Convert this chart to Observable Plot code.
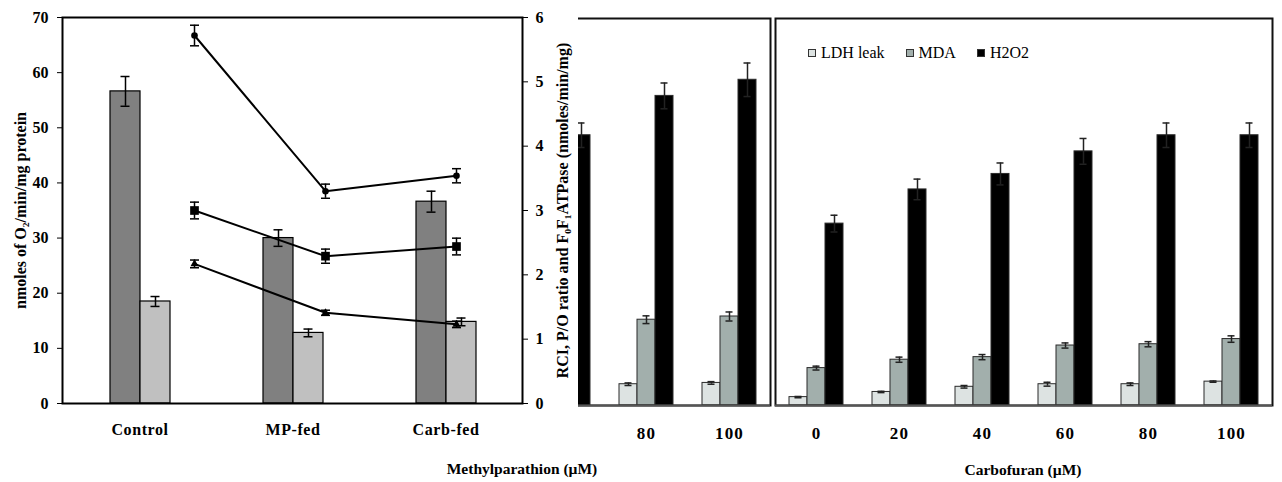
<!DOCTYPE html>
<html><head><meta charset="utf-8">
<script src="https://cdn.jsdelivr.net/npm/d3@7"></script>
<script src="https://cdn.jsdelivr.net/npm/@observablehq/plot@0.6"></script>
<style>
body{margin:0;background:#fff;}
#fig{position:relative;width:1282px;height:482px;overflow:hidden;background:#fff;font-family:"Liberation Serif",serif;}
.layer{position:absolute;top:0;}
.layer svg{display:block;}
#panelA{left:0;width:578px;height:482px;background:#fff;}
.title{position:absolute;font-family:"Liberation Serif","Times New Roman",serif;font-weight:bold;font-size:15.5px;white-space:nowrap;transform:translateX(-50%);}
#legend{position:absolute;left:808px;top:44px;display:flex;align-items:center;}
#legend .item{display:flex;align-items:center;margin-right:21px;}
#legend .item span{font-family:"Liberation Serif","Times New Roman",serif;font-size:16px;font-weight:normal;color:#000;}
#legend .sw{width:6px;height:6px;border:1px solid #333;margin-right:5px;}
</style></head><body><div id="fig"></div>
<script>
// ---------- Panel A data ----------
const groupsA = ["Control", "MP-fed", "Carb-fed"];
const barNamesA = ["Bar series 1", "Bar series 2"];
const barA1 = [56.6, 30.0, 36.6];
const barA1Err = [2.7, 1.5, 1.9];
const barA2 = [18.5, 12.8, 14.8];
const barA2Err = [0.9, 0.7, 0.7];
const lineNames = ["Circle series", "Square series", "Triangle series"];
const lineCircle = [5.72, 3.30, 3.54];
const lineCircleErr = [0.16, 0.11, 0.11];
const lineSquare = [3.00, 2.29, 2.44];
const lineSquareErr = [0.13, 0.11, 0.13];
const lineTriangle = [2.17, 1.41, 1.23];
const lineTriangleErr = [0.06, 0.04, 0.05];
const leftTicks = [0, 10, 20, 30, 40, 50, 60, 70];
const rightTicks = [0, 1, 2, 3, 4, 5, 6];

// ---------- Panels B / C data ----------
const seriesBC = ["LDH leak", "MDA", "H2O2"];
const groupsB = ["60", "80", "100"];
const ldhB = [null, 0.33, 0.35];
const ldhBErr = [null, 0.02, 0.02];
const mdaB = [null, 1.33, 1.38];
const mdaBErr = [null, 0.06, 0.07];
const h2o2B = [4.19, 4.80, 5.05];
const h2o2BErr = [0.19, 0.20, 0.26];

const groupsC = ["0", "20", "40", "60", "80", "100"];
const ldhC = [0.13, 0.21, 0.29, 0.33, 0.33, 0.37];
const ldhCErr = [0.01, 0.01, 0.02, 0.03, 0.02, 0.01];
const mdaC = [0.58, 0.71, 0.75, 0.93, 0.95, 1.03];
const mdaCErr = [0.03, 0.04, 0.04, 0.04, 0.04, 0.05];
const h2o2C = [2.82, 3.35, 3.59, 3.94, 4.19, 4.19];
const h2o2CErr = [0.13, 0.16, 0.17, 0.20, 0.19, 0.19];

const colorsA = ["#808080", "#c0c0c0"];
const colorsBC = ["#dde3e2", "#a2afac", "#000000"];

function rowsFrom(groups, names, vals, errs) {
  const out = [];
  names.forEach((s, k) => groups.forEach((g, i) => {
    if (vals[k][i] != null) out.push({group: g, series: s, value: vals[k][i], err: errs[k][i]});
  }));
  return out;
}

const fig = document.getElementById("fig");
function place(node, left, parent) {
  node.classList.add("layer");
  node.style.left = left + "px";
  (parent || fig).appendChild(node);
  return node;
}

// horizontal error-bar cap as a custom dot symbol
const capSymbol = {draw(ctx, size) { const h = Math.sqrt(size / Math.PI) * 1.8; ctx.moveTo(-h, 0); ctx.lineTo(h, 0); }};

// ---------- Panel B & C (grouped bars) ----------
function groupedPanel(groups, rows, width, mL, mR) {
  const base = {width, height: 482, marginLeft: mL, marginRight: mR, marginTop: 18, marginBottom: 77,
    style: {background: "transparent", fontFamily: "Liberation Serif", fontWeight: "bold", fontSize: "17px", letterSpacing: "1.2px", color: "#000"}};
  const bars = Plot.plot({
    ...base,
    facet: {data: rows, x: "group"},
    fx: {domain: groups, paddingInner: 0.325, paddingOuter: 0.153, axis: "bottom", tickSize: 0, tickPadding: 21, label: null},
    x: {domain: seriesBC, padding: 0, axis: null},
    y: {domain: [0, 6], axis: null},
    color: {domain: seriesBC, range: colorsBC},
    marks: [
      Plot.barY(rows, {x: "series", y: "value", fill: "series", stroke: "#2a2a2a", strokeWidth: 1}),
      Plot.ruleX(rows, {x: "series", y1: d => d.value - d.err, y2: d => d.value + d.err, stroke: "#222", strokeWidth: 1.5}),
      Plot.tickY(rows, {x: "series", y: d => d.value + d.err, insetLeft: 5.5, insetRight: 5.5, stroke: "#222", strokeWidth: 1.5}),
      Plot.tickY(rows, {x: "series", y: d => d.value - d.err, insetLeft: 5.5, insetRight: 5.5, stroke: "#222", strokeWidth: 1.5})
    ]
  });
  const frame = Plot.plot({
    ...base,
    x: {domain: groups, type: "band", axis: null},
    y: {domain: [0, 6], axis: null},
    marks: [
      Plot.frame({stroke: "#111", strokeWidth: 2}),
      Plot.ruleY([0], {stroke: "#555", strokeWidth: 2})
    ]
  });
  return [bars, frame];
}

const rowsB = rowsFrom(groupsB, seriesBC, [ldhB, mdaB, h2o2B], [ldhBErr, mdaBErr, h2o2BErr]);
const rowsC = rowsFrom(groupsC, seriesBC, [ldhC, mdaC, h2o2C], [ldhCErr, mdaCErr, h2o2CErr]);
groupedPanel(groupsB, rowsB, 280, 22, 10).forEach(n => place(n, 500));
groupedPanel(groupsC, rowsC, 582, 75, 10).forEach(n => place(n, 700));

// ---------- Panel A ----------
const panelA = document.createElement("div");
panelA.id = "panelA";
panelA.style.position = "absolute";
panelA.style.top = "0px";
fig.appendChild(panelA);

const baseA = {width: 578, height: 482, marginLeft: 62, marginRight: 56, marginTop: 17, marginBottom: 79,
  style: {background: "transparent", fontFamily: "Liberation Serif", fontWeight: "bold", fontSize: "16px", color: "#000"}};

const rowsA = rowsFrom(groupsA, barNamesA, [barA1, barA2], [barA1Err, barA2Err]);
const plotABars = Plot.plot({
  ...baseA,
  style: {...baseA.style, letterSpacing: "0.6px"},
  facet: {data: rowsA, x: "group"},
  fx: {domain: groupsA, paddingInner: 0.603, paddingOuter: 0.3, axis: "bottom", tickSize: 0, tickPadding: 20, label: null},
  x: {domain: barNamesA, padding: 0, axis: null},
  y: {domain: [0, 70], axis: null},
  color: {domain: barNamesA, range: colorsA},
  marks: [
    Plot.barY(rowsA, {x: "series", y: "value", fill: "series", stroke: "#000", strokeWidth: 1.2}),
    Plot.ruleX(rowsA, {x: "series", y1: d => d.value - d.err, y2: d => d.value + d.err, stroke: "#000", strokeWidth: 1.5}),
    Plot.tickY(rowsA, {x: "series", y: d => d.value + d.err, insetLeft: 10.5, insetRight: 10.5, stroke: "#000", strokeWidth: 1.5}),
    Plot.tickY(rowsA, {x: "series", y: d => d.value - d.err, insetLeft: 10.5, insetRight: 10.5, stroke: "#000", strokeWidth: 1.5})
  ]
});
place(plotABars, 0, panelA);

// left axis + frame
const plotAAxis = Plot.plot({
  ...baseA,
  y: {domain: [0, 70], ticks: leftTicks, axis: "left", tickSize: 5, tickPadding: 9,
      label: "nmoles of O₂/min/mg protein", labelAnchor: "center", labelOffset: 48, labelArrow: "none"},
  marks: [Plot.frame({stroke: "#000", strokeWidth: 2})]
});
place(plotAAxis, 0, panelA);

const rowsLine = rowsFrom(groupsA, lineNames, [lineCircle, lineSquare, lineTriangle],
  [lineCircleErr, lineSquareErr, lineTriangleErr]);
const plotALines = Plot.plot({
  ...baseA,
  x: {type: "point", domain: groupsA, padding: 0.749, align: 0.665, axis: null},
  y: {domain: [0, 6], ticks: rightTicks, tickFormat: d3.format("d"), axis: "right", tickSize: 5, tickPadding: 8,
      label: "RCI, P/O ratio and F₀F₁ATPase (nmoles/min/mg)", labelAnchor: "center", labelOffset: 45, labelArrow: "none"},
  marks: [
    Plot.line(rowsLine, {x: "group", y: "value", z: "series", stroke: "#000", strokeWidth: 2}),
    Plot.ruleX(rowsLine, {x: "group", y1: d => d.value - d.err, y2: d => d.value + d.err, stroke: "#000", strokeWidth: 1.5}),
    Plot.dot(rowsLine, {x: "group", y: d => d.value + d.err, symbol: capSymbol, r: 2.5, stroke: "#000", strokeWidth: 1.5, fill: "none"}),
    Plot.dot(rowsLine, {x: "group", y: d => d.value - d.err, symbol: capSymbol, r: 2.5, stroke: "#000", strokeWidth: 1.5, fill: "none"}),
    Plot.dot(rowsLine, {filter: d => d.series === lineNames[0], x: "group", y: "value", symbol: "circle", r: 3.3, fill: "#000"}),
    Plot.dot(rowsLine, {filter: d => d.series === lineNames[1], x: "group", y: "value", symbol: "square", r: 4.9, fill: "#000"}),
    Plot.dot(rowsLine, {filter: d => d.series === lineNames[2], x: "group", y: "value", symbol: "triangle", r: 3, fill: "#000"})
  ]
});
place(plotALines, 0, panelA);

// ---------- Titles & legend ----------
function title(text, cx, top) {
  const d = document.createElement("div");
  d.className = "title";
  d.textContent = text;
  d.style.left = cx + "px";
  d.style.top = top + "px";
  fig.appendChild(d);
}
title("Methylparathion (µM)", 522, 460);
title("Carbofuran (µM)", 1023, 461);

const legend = document.createElement("div");
legend.id = "legend";
seriesBC.forEach((s, i) => {
  const item = document.createElement("div");
  item.className = "item";
  const sw = document.createElement("div");
  sw.className = "sw";
  sw.style.background = colorsBC[i];
  const t = document.createElement("span");
  t.textContent = s;
  item.appendChild(sw); item.appendChild(t);
  legend.appendChild(item);
});
fig.appendChild(legend);
</script></body></html>
